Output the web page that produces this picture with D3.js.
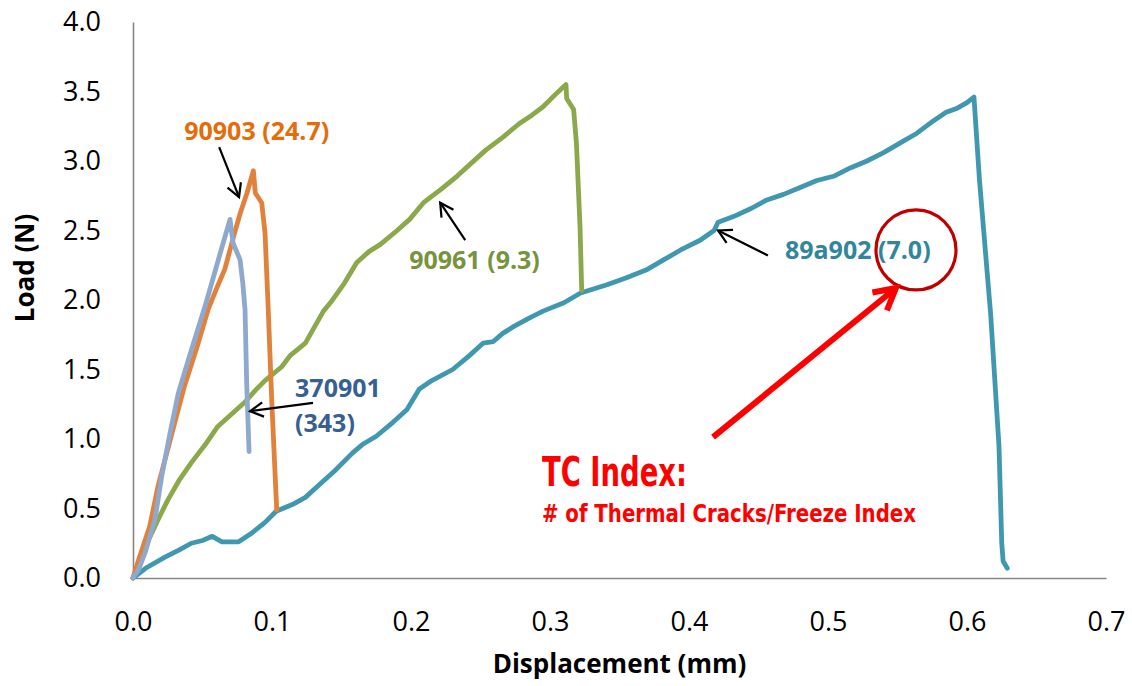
<!DOCTYPE html>
<html>
<head>
<meta charset="utf-8">
<script src="https://cdn.jsdelivr.net/npm/d3@7"></script>
<style>
  body { margin: 0; background: #fff; }
  svg { display: block; }
</style>
</head>
<body>
<div id="chart"></div>
<script>
  // load / displacement curves
  var s89a902 = [[0,0],[0.009,0.07],[0.023,0.15],[0.033,0.2],[0.042,0.25],[0.05,0.27],[0.057,0.3],[0.064,0.26],
    [0.076,0.26],[0.085,0.32],[0.095,0.4],[0.103,0.48],[0.115,0.53],[0.124,0.58],[0.135,0.68],[0.145,0.77],
    [0.158,0.9],[0.165,0.96],[0.175,1.02],[0.187,1.12],[0.197,1.21],[0.206,1.36],[0.215,1.42],[0.23,1.5],
    [0.242,1.6],[0.252,1.69],[0.259,1.7],[0.266,1.76],[0.274,1.81],[0.285,1.87],[0.295,1.92],[0.31,1.98],
    [0.322,2.05],[0.341,2.11],[0.355,2.16],[0.37,2.22],[0.382,2.29],[0.394,2.36],[0.408,2.43],[0.418,2.5],
    [0.421,2.56],[0.432,2.6],[0.445,2.66],[0.456,2.72],[0.468,2.76],[0.48,2.81],[0.492,2.86],[0.504,2.89],
    [0.516,2.95],[0.528,3.0],[0.54,3.06],[0.552,3.13],[0.564,3.2],[0.576,3.29],[0.585,3.35],[0.593,3.38],
    [0.6,3.42],[0.605,3.46],[0.609,2.86],[0.617,1.9],[0.623,0.95],[0.625,0.25],[0.626,0.12],[0.629,0.07]];
  var s90961 = [[0,0],[0.004,0.08],[0.011,0.27],[0.018,0.42],[0.025,0.56],[0.033,0.7],[0.042,0.83],[0.052,0.96],
    [0.061,1.09],[0.071,1.18],[0.081,1.27],[0.088,1.35],[0.095,1.42],[0.107,1.52],[0.113,1.6],[0.124,1.69],
    [0.137,1.92],[0.142,1.98],[0.152,2.12],[0.161,2.27],[0.17,2.35],[0.178,2.4],[0.19,2.5],[0.199,2.58],
    [0.209,2.7],[0.222,2.8],[0.233,2.89],[0.244,2.99],[0.254,3.08],[0.266,3.17],[0.278,3.27],[0.287,3.33],
    [0.295,3.39],[0.305,3.49],[0.3115,3.55],[0.312,3.45],[0.317,3.37],[0.319,3.13],[0.3216,2.53],[0.3228,2.07]];
  var s90903 = [[0,0],[0.004,0.13],[0.008,0.25],[0.012,0.37],[0.018,0.66],[0.023,0.85],[0.028,1.04],[0.037,1.38],
    [0.046,1.66],[0.054,1.93],[0.06,2.08],[0.066,2.22],[0.073,2.48],[0.077,2.62],[0.082,2.77],[0.0866,2.93],
    [0.088,2.77],[0.0926,2.7],[0.095,2.48],[0.0973,1.93],[0.0998,1.28],[0.1034,0.49]];
  var s370901 = [[0,0],[0.004,0.06],[0.0086,0.18],[0.0158,0.42],[0.0206,0.73],[0.0266,1.04],[0.0326,1.33],
    [0.042,1.64],[0.052,1.96],[0.058,2.17],[0.064,2.38],[0.0698,2.58],[0.072,2.41],[0.077,2.29],[0.079,2.12],
    [0.0806,1.93],[0.0818,1.4],[0.0835,0.91]];

  var seriesNames = ["89a902", "90961", "90903", "370901"];
  var seriesData = [s89a902, s90961, s90903, s370901];
  var lineColors = ["#4098B0", "#8BA84B", "#E0823C", "#8EA8CE"];
  var labelColors = ["#31859C", "#77933C", "#E46C0A", "#376092"];
  var tcIndex = ["7.0", "9.3", "24.7", "343"];

  var xTicks = [0, 0.1, 0.2, 0.3, 0.4, 0.5, 0.6, 0.7];
  var yTicks = [0, 0.5, 1.0, 1.5, 2.0, 2.5, 3.0, 3.5, 4.0];

  var width = 1132,
      height = 686,
      margin = {top: 22, right: 26, bottom: 108, left: 133};

  var svg = d3.select("#chart")
    .append("svg")
      .attr("width", width)
      .attr("height", height);

  var x = d3.scaleLinear()
    .domain([0, 0.7])
    .range([margin.left, width - margin.right]);

  var y = d3.scaleLinear()
    .domain([0, 4])
    .range([height - margin.bottom, margin.top]);

  var tickFont = "'Open Sans', 'Liberation Sans', sans-serif";

  // axes: plain grey lines, no tick marks
  var xAxis = svg.append("g")
      .attr("transform", "translate(0," + y(0) + ")")
      .call(d3.axisBottom(x).tickValues(xTicks).tickFormat(d3.format(".1f")).tickSize(0).tickPadding(34));
  var yAxis = svg.append("g")
      .attr("transform", "translate(" + x(0) + ",0)")
      .call(d3.axisLeft(y).tickValues(yTicks).tickFormat(d3.format(".1f")).tickSize(0).tickPadding(32));

  [xAxis, yAxis].forEach(function(a) {
    a.select(".domain").attr("stroke", "#868686").attr("stroke-width", 1.6);
    a.selectAll("text")
      .attr("font-family", tickFont)
      .attr("font-size", 27)
      .attr("fill", "#000");
  });

  svg.append("text")
    .attr("x", (x(0) + x(0.7)) / 2)
    .attr("y", 673)
    .attr("text-anchor", "middle")
    .attr("font-family", tickFont)
    .attr("font-weight", "bold")
    .attr("font-size", 26)
    .text("Displacement (mm)");

  svg.append("text")
    .attr("transform", "translate(34,268) rotate(-90)")
    .attr("text-anchor", "middle")
    .attr("font-family", tickFont)
    .attr("font-weight", "bold")
    .attr("font-size", 26)
    .text("Load (N)");

  var line = d3.line()
    .x(function(d) { return x(d[0]); })
    .y(function(d) { return y(d[1]); });

  svg.append("g")
    .selectAll("path")
    .data(seriesData)
    .enter().append("path")
      .attr("d", line)
      .attr("fill", "none")
      .attr("stroke", function(d, i) { return lineColors[i]; })
      .attr("stroke-width", 4.8)
      .attr("stroke-linejoin", "round")
      .attr("stroke-linecap", "round");

  function arrow(g, x1, y1, x2, y2, head, color, w) {
    var a = Math.atan2(y2 - y1, x2 - x1);
    g.append("line")
      .attr("x1", x1).attr("y1", y1).attr("x2", x2).attr("y2", y2)
      .attr("stroke", color).attr("stroke-width", w);
    g.append("path")
      .attr("d", "M" + (x2 - head * Math.cos(a - 0.5)) + "," + (y2 - head * Math.sin(a - 0.5)) +
                 "L" + x2 + "," + y2 +
                 "L" + (x2 - head * Math.cos(a + 0.5)) + "," + (y2 - head * Math.sin(a + 0.5)))
      .attr("fill", "none")
      .attr("stroke", color).attr("stroke-width", w)
      .attr("stroke-linejoin", "miter");
  }

  var notes = svg.append("g")
    .attr("font-family", tickFont)
    .attr("font-weight", "bold")
    .attr("font-size", 25);

  // 90903
  notes.append("text")
    .attr("x", x(0.089)).attr("y", y(3.15))
    .attr("text-anchor", "middle")
    .attr("fill", labelColors[2])
    .text(seriesNames[2] + " (" + tcIndex[2] + ")");
  arrow(notes, x(0.062), y(3.10), x(0.0763), y(2.74), 15, "#000", 2.2);

  // 90961
  notes.append("text")
    .attr("x", x(0.2457)).attr("y", y(2.22))
    .attr("text-anchor", "middle")
    .attr("fill", labelColors[1])
    .text(seriesNames[1] + " (" + tcIndex[1] + ")");
  arrow(notes, x(0.239), y(2.43), x(0.221), y(2.70), 15, "#000", 2.2);

  // 370901
  notes.append("text")
    .attr("x", x(0.1166)).attr("y", y(1.30))
    .attr("fill", labelColors[3])
    .text(seriesNames[3]);
  notes.append("text")
    .attr("x", x(0.1166)).attr("y", y(1.05))
    .attr("fill", labelColors[3])
    .text("(" + tcIndex[3] + ")");
  arrow(notes, x(0.1295), y(1.26), x(0.0842), y(1.20), 15, "#000", 2.2);

  // 89a902
  notes.append("text")
    .attr("x", x(0.469)).attr("y", y(2.295))
    .attr("fill", labelColors[0])
    .text(seriesNames[0] + " (" + tcIndex[0] + ")");
  arrow(notes, x(0.4568), y(2.32), x(0.4209), y(2.50), 15, "#000", 2.2);

  svg.append("circle")
    .attr("cx", x(0.5633)).attr("cy", y(2.36))
    .attr("r", 40)
    .attr("fill", "none")
    .attr("stroke", "#C00000")
    .attr("stroke-width", 3.2);

  arrow(svg, x(0.4173), y(1.014), x(0.5489), y(2.086), 24, "#FF0000", 6);

  var tcFont = "'Liberation Sans Narrow', 'DejaVu Sans Condensed', 'Liberation Sans', sans-serif";
  svg.append("text")
    .attr("x", x(0.2942)).attr("y", y(0.662))
    .attr("font-family", tcFont)
    .attr("font-weight", "bold")
    .attr("font-size", 40)
    .attr("fill", "#FF0000")
    .attr("textLength", 145)
    .attr("lengthAdjust", "spacingAndGlyphs")
    .text("TC Index:");
  svg.append("text")
    .attr("x", x(0.2942)).attr("y", y(0.403))
    .attr("font-family", tcFont)
    .attr("font-weight", "bold")
    .attr("font-size", 24)
    .attr("fill", "#FF0000")
    .attr("textLength", 374)
    .attr("lengthAdjust", "spacingAndGlyphs")
    .text("# of Thermal Cracks/Freeze Index");
</script>
</body>
</html>
